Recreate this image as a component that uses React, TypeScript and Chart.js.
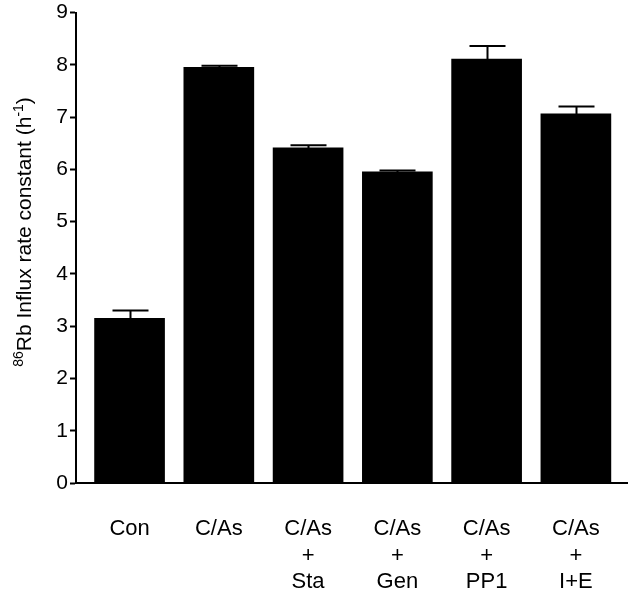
import React, { useEffect, useRef } from "react";
import { Chart, registerables } from "chart.js";

Chart.register(...registerables);

const categories: string[][] = [
  ["Con"],
  ["C/As"],
  ["C/As", "+", "Sta"],
  ["C/As", "+", "Gen"],
  ["C/As", "+", "PP1"],
  ["C/As", "+", "I+E"],
];
const influx: number[] = [3.15, 7.95, 6.41, 5.95, 8.11, 7.06];
const errors: number[] = [0.15, 0.03, 0.05, 0.03, 0.25, 0.14];
const yTicks: number[] = [0, 1, 2, 3, 4, 5, 6, 7, 8, 9];

const FONT = "'Liberation Sans', Arial, Helvetica, sans-serif";

const errorBarPlugin = {
  id: "errorBars",
  afterDatasetsDraw(chart: any) {
    const ctx = chart.ctx;
    const meta = chart.getDatasetMeta(0);
    const y = chart.scales.y;
    ctx.save();
    ctx.strokeStyle = "#000";
    ctx.lineWidth = 2;
    meta.data.forEach((bar: any, i: number) => {
      const top = y.getPixelForValue(influx[i]);
      const hi = y.getPixelForValue(influx[i] + errors[i]);
      const x = Math.round(bar.x) + 0.5;
      ctx.beginPath();
      ctx.moveTo(x, top);
      ctx.lineTo(x, hi);
      ctx.moveTo(x - 18, hi);
      ctx.lineTo(x + 18, hi);
      ctx.stroke();
    });
    ctx.restore();
  },
};

const yTitlePlugin = {
  id: "yTitle",
  afterDraw(chart: any) {
    const ctx = chart.ctx;
    const parts: { t: string; sup: boolean }[] = [
      { t: "86", sup: true },
      { t: "Rb Influx rate constant (h", sup: false },
      { t: "-1", sup: true },
      { t: ")", sup: false },
    ];
    const big = `21px ${FONT}`;
    const small = `14px ${FONT}`;
    ctx.save();
    let total = 0;
    parts.forEach((p) => {
      ctx.font = p.sup ? small : big;
      total += ctx.measureText(p.t).width;
    });
    ctx.translate(31, 232);
    ctx.rotate(-Math.PI / 2);
    ctx.fillStyle = "#000";
    ctx.textBaseline = "alphabetic";
    ctx.textAlign = "left";
    let x = -total / 2;
    parts.forEach((p) => {
      ctx.font = p.sup ? small : big;
      ctx.fillText(p.t, x, p.sup ? -8 : 0);
      x += ctx.measureText(p.t).width;
    });
    ctx.restore();
  },
};

export default function App() {
  const ref = useRef<HTMLCanvasElement | null>(null);

  useEffect(() => {
    if (!ref.current) return;
    const chart = new Chart(ref.current, {
      type: "bar",
      data: {
        datasets: [
          {
            data: influx.map((v, i) => ({ x: i, y: v })),
            backgroundColor: "#000",
            borderWidth: 0,
            barThickness: 70,
          },
        ],
      },
      options: {
        responsive: false,
        animation: false,
        devicePixelRatio: 1,
        layout: { padding: { top: 10, right: 3, left: 0, bottom: 0 } },
        plugins: {
          legend: { display: false },
          tooltip: { enabled: false },
        },
        scales: {
          x: {
            type: "linear",
            offset: false,
            min: -0.6,
            max: 5.58,
            afterBuildTicks: (scale: any) => {
              scale.ticks = categories.map((_, i) => ({ value: i }));
            },
            afterFit: (scale: any) => {
              scale.height = 109;
            },
            grid: { display: false, drawTicks: false, offset: false },
            border: { display: true, color: "#000", width: 2 },
            ticks: {
              padding: 33,
              color: "#000",
              font: { family: FONT, size: 22, lineHeight: 1.2 },
              maxRotation: 0,
              autoSkip: false,
              callback: (v: any) => categories[Math.round(Number(v))] ?? "",
            },
          },
          y: {
            min: 0,
            max: 9,
            afterBuildTicks: (scale: any) => {
              scale.ticks = yTicks.map((v) => ({ value: v }));
            },
            afterFit: (scale: any) => {
              scale.width = 76;
            },
            grid: {
              drawOnChartArea: false,
              drawTicks: true,
              tickLength: 6,
              tickWidth: 2,
              color: "#000",
            },
            border: { display: true, color: "#000", width: 2 },
            ticks: {
              padding: 2,
              color: "#000",
              font: { family: FONT, size: 21, lineHeight: 1 },
            },
          },
        },
      },
      plugins: [errorBarPlugin, yTitlePlugin],
    } as any);
    return () => chart.destroy();
  }, []);

  return (
    <div style={{ position: "absolute", left: 0, top: 0, width: 633, height: 592, background: "#fff" }}>
      <canvas ref={ref} width={633} height={592} style={{ width: 633, height: 592, display: "block" }} />
    </div>
  );
}
